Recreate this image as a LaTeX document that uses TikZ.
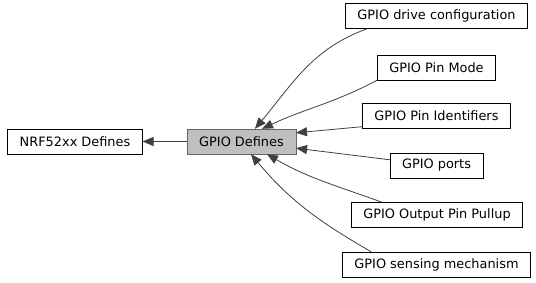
\documentclass[tikz,border=0pt]{standalone}
\usepackage{fontspec}
\setmainfont{DejaVu Sans}
\usetikzlibrary{arrows.meta}
\definecolor{edgegray}{HTML}{404040}
\definecolor{curfill}{HTML}{BFBFBF}
\definecolor{curline}{HTML}{666666}
\begin{document}
\begin{tikzpicture}[x=1pt, y=1pt,
  every node/.style={align=center, font=\fontsize{12.9}{15}\selectfont},
  group/.style={draw=black, fill=white, minimum height=25pt, inner xsep=12pt, inner ysep=0pt},
  current/.style={group, draw=curline, fill=curfill},
  edge/.style={-{Triangle[length=11pt, width=9pt]}, draw=edgegray, line width=0.8pt}]
\useasboundingbox (0,0) rectangle (536,283);
\node (nrf) [group] at (75,141.5) {NRF52xx Defines};
\node (gpio) [current] at (241.5,141.5) {GPIO Defines};
\node (drive) [group] at (436.5,267) {GPIO drive configuration};
\node (mode) [group] at (436.5,215.5) {GPIO Pin Mode};
\node (ident) [group] at (436.5,167) {GPIO Pin Identifiers};
\node (ports) [group] at (436.5,117.5) {GPIO ports};
\node (pullup) [group] at (437,68) {GPIO Output Pin Pullup};
\node (sense) [group] at (436.5,18.5) {GPIO sensing mechanism};

\draw[edge] (gpio) -- (nrf);
\draw[edge] ([xshift=22pt]drive.south west) to[out=200, in=50] ([xshift=68pt]gpio.north west);
\draw[edge] (mode.south west) to[out=208, in=25] ([xshift=75pt]gpio.north west);
\draw[edge] ([yshift=2pt]ident.south west) -- ([yshift=-4pt]gpio.north east);
\draw[edge] ([yshift=-7pt]ports.north west) -- ([yshift=6pt]gpio.south east);
\draw[edge] ([xshift=31pt]pullup.north west) to[out=160, in=-30] ([xshift=80pt]gpio.south west);
\draw[edge] ([xshift=29pt]sense.north west) to[out=150, in=-50] ([xshift=64pt]gpio.south west);
\end{tikzpicture}
\end{document}
